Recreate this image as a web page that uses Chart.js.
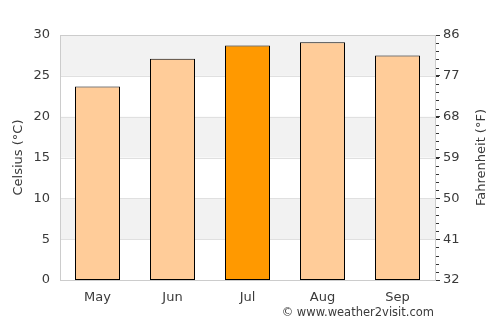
<!DOCTYPE html>
<html><head><meta charset="utf-8">
<script src="https://cdn.jsdelivr.net/npm/chart.js@4"></script>
<style>html,body{margin:0;padding:0;background:#fff}#wrap{width:500px;height:325px}</style>
</head><body><div id="wrap"><canvas id="c" width="500" height="325"></canvas></div>
<script>
const months = ["May","Jun","Jul","Aug","Sep"];
const celsius = [23.7, 27.1, 28.7, 29.1, 27.5];
const barColors = ["#ffcc99","#ffcc99","#ff9900","#ffcc99","#ffcc99"];
const fahrenheitTicks = [32, 41, 50, 59, 68, 77, 86];
const FONT = "DejaVu Sans";
const TXT = '#3a3a3a';

const bands = {
  id: 'bands',
  beforeDraw(chart) {
    const {ctx, chartArea: a, scales: {y}} = chart;
    ctx.save();
    ctx.fillStyle = '#f2f2f2';
    for (let v = 5; v < 30; v += 10) {
      const t = y.getPixelForValue(v + 5), b = y.getPixelForValue(v);
      ctx.fillRect(a.left, t, a.right - a.left, b - t);
    }
    ctx.strokeStyle = '#e0e0e0'; ctx.lineWidth = 1;
    for (let v = 5; v < 30; v += 5) {
      const p = Math.round(y.getPixelForValue(v)) + 0.5;
      ctx.beginPath(); ctx.moveTo(a.left, p); ctx.lineTo(a.right, p); ctx.stroke();
    }
    ctx.restore();
  },
  afterDraw(chart) {
    const {ctx, chartArea: a, scales: {y}} = chart;
    ctx.save();
    ctx.strokeStyle = '#cccccc'; ctx.lineWidth = 1;
    ctx.strokeRect(Math.round(a.left) + 0.5, Math.round(a.top) + 0.5, Math.round(a.right - a.left), Math.round(a.bottom - a.top));
    ctx.strokeStyle = '#333';
    for (let v = 0; v <= 30; v++) {
      const p = Math.round(y.getPixelForValue(v)) + 0.5;
      ctx.beginPath(); ctx.moveTo(a.right + 1, p); ctx.lineTo(a.right + 4, p); ctx.stroke();
    }
    ctx.fillStyle = TXT;
    ctx.font = '13px ' + FONT;
    ctx.textAlign = 'center'; ctx.textBaseline = 'middle';
    const cy = (a.top + a.bottom) / 2;
    ctx.save(); ctx.translate(19, cy); ctx.rotate(-Math.PI / 2); ctx.fillText('Celsius (°C)', 0, 0); ctx.restore();
    ctx.save(); ctx.translate(482, cy); ctx.rotate(-Math.PI / 2); ctx.fillText('Fahrenheit (°F)', 0, 0); ctx.restore();
    ctx.font = '11.5px ' + FONT;
    ctx.textAlign = 'right';
    ctx.fillText('© www.weather2visit.com', a.right - 1, 313);
    ctx.restore();
  }
};

new Chart(document.getElementById('c'), {
  type: 'bar',
  data: {
    labels: months,
    datasets: [{
      data: celsius,
      backgroundColor: barColors,
      borderColor: '#000',
      borderWidth: 1,
      borderSkipped: false,
      categoryPercentage: 1,
      barPercentage: 0.6
    }]
  },
  options: {
    responsive: false,
    animation: false,
    devicePixelRatio: 1,
    layout: {padding: {top: 35, left: 0, right: 0, bottom: 0}},
    plugins: {legend: {display: false}, tooltip: {enabled: false}},
    scales: {
      x: {
        grid: {display: false},
        border: {display: false},
        ticks: {color: TXT, font: {family: FONT, size: 13}, padding: 2},
        afterFit(s) { s.height = 45; }
      },
      y: {
        position: 'left',
        min: 0, max: 30,
        ticks: {stepSize: 5, color: TXT, font: {family: FONT, size: 13}, padding: 10},
        grid: {display: false, drawTicks: false},
        border: {display: false},
        afterFit(s) { s.width = 60; }
      },
      y2: {
        position: 'right',
        min: 32, max: 86,
        afterBuildTicks(s) { s.ticks = fahrenheitTicks.map(v => ({value: v})); },
        ticks: {color: TXT, font: {family: FONT, size: 13}, padding: 3},
        grid: {drawOnChartArea: false, drawTicks: true, tickLength: 5, color: '#333'},
        border: {display: false},
        afterFit(s) { s.width = 65; }
      }
    }
  },
  plugins: [bands]
});
</script></body></html>
